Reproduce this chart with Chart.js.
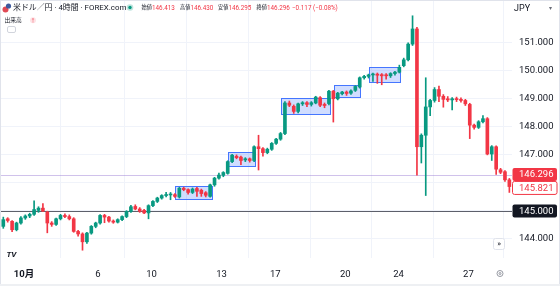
<!DOCTYPE html>
<html>
<head>
<meta charset="utf-8">
<script src="https://cdn.jsdelivr.net/npm/chart.js@4.4.0/dist/chart.umd.min.js"></script>
<style>
  html, body { margin: 0; padding: 0; background: #ffffff; }
  #wrap { position: relative; width: 560px; height: 286px; }
</style>
</head>
<body>
<div id="wrap"><canvas id="fxChart" width="560" height="286"></canvas></div>
<script>
// USD/JPY 4h candles (bar index 0..115)
const opens  = [144.45,144.72,144.63,144.33,144.57,144.75,144.82,144.88,145.02,145.10,
                144.96,144.57,144.52,144.72,144.84,144.80,144.72,144.27,144.18,143.90,
                144.21,144.45,144.57,144.84,144.78,144.64,144.60,144.69,144.80,144.98,
                145.16,145.07,145.02,144.93,145.19,145.34,145.46,145.55,145.57,145.58,
                145.50,145.81,145.76,145.66,145.80,145.74,145.65,145.52,145.93,146.17,
                146.27,146.34,146.76,146.95,146.92,146.82,146.86,146.80,147.29,147.22,
                147.08,147.20,147.41,147.56,147.76,148.85,148.73,148.55,148.82,148.86,
                148.80,148.85,149.04,148.80,148.83,149.27,149.00,149.18,149.24,149.20,
                149.30,149.42,149.75,149.80,149.85,149.88,149.86,149.85,149.82,149.90,
                149.95,150.18,150.39,150.95,151.49,147.29,147.70,148.71,148.94,149.33,
                149.09,149.00,148.96,149.00,148.98,148.94,148.80,148.06,147.98,148.18,
                148.29,147.03,147.29,146.47,146.40,146.11];
const highs  = [144.78,144.76,144.66,144.60,144.80,144.86,144.92,145.36,145.15,145.26,
                144.99,144.62,144.75,144.88,144.90,144.86,144.76,144.31,144.22,144.24,
                144.48,144.60,144.87,144.88,144.81,144.68,144.72,144.83,145.01,145.20,
                145.22,145.12,145.06,145.22,145.37,145.49,145.58,145.66,145.66,145.62,
                145.84,145.85,145.79,145.82,145.84,145.78,145.69,145.96,146.20,146.35,
                146.40,146.79,147.02,147.00,146.96,146.90,146.89,147.32,147.70,147.26,
                147.24,147.44,147.59,147.80,148.90,148.92,148.78,148.85,148.90,148.90,
                148.90,149.09,149.08,148.85,149.30,149.30,149.23,149.27,149.28,149.32,
                149.47,149.78,149.84,149.88,149.92,149.92,149.90,149.90,149.93,149.98,
                150.20,150.45,151.00,151.96,151.55,147.75,149.75,148.98,149.40,149.45,
                149.15,149.08,149.04,149.06,149.03,148.98,148.84,148.10,148.22,148.40,
                148.33,147.33,147.32,146.52,146.44,146.16];
const lows   = [144.38,144.60,144.26,144.29,144.53,144.70,144.76,144.84,144.95,144.97,
                144.22,144.45,144.48,144.68,144.76,144.68,144.24,144.10,143.60,143.84,
                144.17,144.40,144.53,144.58,144.60,144.56,144.57,144.65,144.76,144.95,
                145.04,144.95,144.90,144.72,145.15,145.30,145.42,145.50,145.40,145.48,
                145.46,145.72,145.60,145.62,145.52,145.52,145.50,145.49,145.88,146.13,
                146.22,146.31,146.72,146.86,146.65,146.76,146.74,146.76,146.46,146.95,
                147.04,147.16,147.37,147.52,147.72,148.72,148.48,148.50,148.76,148.72,
                148.74,148.82,148.72,148.68,148.78,148.17,148.96,149.14,149.12,149.16,
                149.26,149.38,149.70,149.74,149.62,149.55,149.50,149.70,149.76,149.84,
                149.92,150.14,150.35,150.90,146.28,146.71,145.55,148.40,148.88,148.90,
                148.70,148.90,148.60,148.90,148.88,148.76,147.58,147.92,147.94,148.14,
                147.00,146.80,146.30,146.33,146.05,145.66];
const closes = [144.69,144.66,144.33,144.57,144.75,144.82,144.88,145.05,145.10,145.00,
                144.57,144.52,144.72,144.84,144.80,144.72,144.27,144.18,143.90,144.21,
                144.45,144.57,144.84,144.78,144.64,144.60,144.69,144.80,144.98,145.15,
                145.07,144.99,144.93,145.19,145.34,145.46,145.55,145.58,145.60,145.52,
                145.81,145.76,145.66,145.78,145.70,145.62,145.56,145.93,146.17,146.28,
                146.37,146.76,146.99,146.90,146.80,146.86,146.80,147.29,147.22,147.08,
                147.20,147.41,147.56,147.76,148.85,148.77,148.55,148.82,148.86,148.80,
                148.86,149.06,148.77,148.76,149.27,149.00,149.20,149.24,149.19,149.28,
                149.44,149.75,149.80,149.85,149.88,149.84,149.82,149.82,149.90,149.95,
                150.12,150.39,150.95,151.49,147.29,147.70,148.71,148.94,149.33,149.09,
                148.98,148.96,149.00,148.97,148.94,148.82,148.06,147.98,148.18,148.29,
                147.03,147.29,146.49,146.38,146.11,145.87];

// time axis: bar position of each day label
const dayTicks  = [4.7, 21.5, 33.7, 49.6, 61.8, 77.7, 89.8, 105.7];
const dayLabels = ['10月', '6', '10', '13', '17', '20', '24', '27'];

// price axis
const priceTicks = [144, 145, 146, 147, 148, 149, 150, 151];

// highlighted ranges (bar from / to, price low / high)
const boxFrom = [39.0, 51.0, 63.05, 75.2, 83.1];
const boxTo   = [47.4, 57.2, 74.25, 81.1, 90.2];
const boxLow  = [145.43, 146.61, 148.46, 149.05, 149.59];
const boxHigh = [145.90, 147.11, 149.02, 149.49, 150.14];

// price marks on the right axis
const lastPrice = 146.296;
const bidPrice = 145.821;
const levelPrice = 145.000;

// header values
const hdrOpen = '146.413', hdrHigh = '146.430', hdrLow = '146.295', hdrClose = '146.296';
const hdrChange = '−0.117 (−0.08%)';

const UP = '#089981';
const DOWN = '#f23645';
const TEXT = '#131722';
const FONT = 'Roboto, "Noto Sans CJK JP", sans-serif';

const candleColors = closes.map((c, i) => c >= opens[i] ? UP : DOWN);
const bodyData = closes.map((c, i) => ({ x: i, y: [opens[i], c] }));
const wickData = closes.map((c, i) => ({ x: i, y: [lows[i], highs[i]] }));

// drop the label padding chart.js reserves so the plot fills the canvas
function noPadding(s) {
    s.paddingTop = 0;
    s.paddingBottom = 0;
    s.paddingLeft = 0;
    s.paddingRight = 0;
}

const overlay = {
    id: 'overlay',
    beforeDatasetsDraw(chart) {
        const { ctx, chartArea: a, scales: { x, y } } = chart;
        ctx.save();
        // highlight boxes
        boxFrom.forEach((b, k) => {
            const x0 = Math.round(x.getPixelForValue(b)) + 0.5;
            const x1 = Math.round(x.getPixelForValue(boxTo[k])) + 0.5;
            const y0 = Math.round(y.getPixelForValue(boxHigh[k])) + 0.5;
            const y1 = Math.round(y.getPixelForValue(boxLow[k])) + 0.5;
            ctx.fillStyle = 'rgba(41, 98, 255, 0.22)';
            ctx.fillRect(x0, y0, x1 - x0, y1 - y0);
            ctx.strokeStyle = 'rgba(41, 98, 255, 0.85)';
            ctx.lineWidth = 1;
            ctx.strokeRect(x0, y0, x1 - x0, y1 - y0);
        });
        // horizontal price lines
        let py = Math.round(y.getPixelForValue(levelPrice)) + 0.5;
        ctx.strokeStyle = '#5d606b';
        ctx.beginPath(); ctx.moveTo(a.left, py); ctx.lineTo(a.right, py); ctx.stroke();
        py = Math.round(y.getPixelForValue(lastPrice)) + 0.5;
        ctx.strokeStyle = 'rgba(150, 120, 210, 0.45)';
        ctx.beginPath(); ctx.moveTo(a.left, py); ctx.lineTo(a.right, py); ctx.stroke();
        ctx.restore();
    },
    afterDraw(chart) {
        const { ctx, chartArea: a, scales: { y } } = chart;
        ctx.save();
        ctx.textBaseline = 'middle';

        // price tags
        const tag = (v, fill, stroke, color) => {
            const cy = y.getPixelForValue(v);
            ctx.fillStyle = fill;
            ctx.beginPath();
            ctx.roundRect(a.right + 0.5, cy - 6.5, 44.5, 13, 2);
            ctx.fill();
            if (stroke) { ctx.strokeStyle = stroke; ctx.lineWidth = 1; ctx.stroke(); }
            ctx.fillStyle = color;
            ctx.font = '9.5px ' + FONT;
            ctx.fillText(v.toFixed(3), a.right + 7, cy + 0.5);
        };
        tag(lastPrice, DOWN, null, '#ffffff');
        tag(bidPrice, '#ffffff', DOWN, DOWN);
        tag(levelPrice, TEXT, null, '#ffffff');

        // header: symbol
        ctx.fillStyle = '#e04a55';
        ctx.beginPath(); ctx.arc(5.5, 9.5, 3, 0, Math.PI * 2); ctx.fill();
        ctx.fillStyle = '#3d5a9e';
        ctx.beginPath(); ctx.arc(8.5, 6, 2.6, 0, Math.PI * 2); ctx.fill();
        ctx.fillStyle = TEXT;
        ctx.font = '7.9px ' + FONT;
        ctx.fillText('米ドル／円 · 4時間 · FOREX.com', 13, 8.5);

        // market status dot
        ctx.fillStyle = 'rgba(8, 153, 129, 0.25)';
        ctx.beginPath(); ctx.arc(130, 7.5, 3.3, 0, Math.PI * 2); ctx.fill();
        ctx.fillStyle = UP;
        ctx.beginPath(); ctx.arc(130, 7.5, 1.7, 0, Math.PI * 2); ctx.fill();

        // OHLC legend
        const ohlc = [['始値', hdrOpen, 141.5], ['高値', hdrHigh, 180], ['安値', hdrLow, 218], ['終値', hdrClose, 256.5]];
        ohlc.forEach(([lab, val, px]) => {
            ctx.fillStyle = TEXT;
            ctx.font = '5.2px ' + FONT;
            ctx.fillText(lab, px, 8);
            ctx.fillStyle = DOWN;
            ctx.font = '6.3px ' + FONT;
            ctx.fillText(val, px + 10.5, 8);
        });
        ctx.fillText(hdrChange, 292, 8);

        // volume row
        ctx.fillStyle = TEXT;
        ctx.font = '5.8px ' + FONT;
        ctx.fillText('出来高', 4.5, 20.5);
        ctx.fillStyle = '#fde3e6';
        ctx.beginPath(); ctx.arc(33, 20.3, 3, 0, Math.PI * 2); ctx.fill();
        ctx.fillStyle = DOWN;
        ctx.font = '5px ' + FONT;
        ctx.textAlign = 'center';
        ctx.fillText('↑', 33, 20.5);
        ctx.textAlign = 'left';
        ctx.strokeStyle = '#d1d4dc';
        ctx.beginPath(); ctx.roundRect(7.5, 26.5, 8, 6, 1.5); ctx.stroke();

        // currency selector
        ctx.fillStyle = '#ffffff';
        ctx.fillRect(a.right + 1, 1, 47, 15);
        ctx.fillStyle = TEXT;
        ctx.font = '9px ' + FONT;
        ctx.fillText('JPY', 514, 8.5);
        ctx.font = '6px ' + FONT;
        ctx.fillStyle = '#6a6d78';
        ctx.fillText('▾', 549, 8.5);

        // scroll button
        ctx.fillStyle = '#ffffff';
        ctx.strokeStyle = '#e0e3eb';
        ctx.beginPath(); ctx.roundRect(493.5, 238.5, 11, 11, 2); ctx.fill(); ctx.stroke();
        ctx.fillStyle = TEXT;
        ctx.font = '8px ' + FONT;
        ctx.textAlign = 'center';
        ctx.fillText('»', 499, 243.5);

        // settings icon
        ctx.strokeStyle = '#9598a1';
        ctx.beginPath(); ctx.arc(500, 273.5, 3, 0, Math.PI * 2); ctx.stroke();
        ctx.beginPath(); ctx.arc(500, 273.5, 1, 0, Math.PI * 2); ctx.stroke();

        // logo
        ctx.textAlign = 'left';
        ctx.fillStyle = TEXT;
        ctx.font = 'bold italic 8px ' + FONT;
        ctx.fillText('TV', 6.5, 254.5);

        // frame
        ctx.strokeStyle = '#e0e3eb';
        ctx.strokeRect(0.5, 0.5, 559, 285);
        ctx.fillStyle = '#eef0f3';
        ctx.fillRect(0, 284, 560, 2);
        ctx.restore();
    }
};

const ctx = document.getElementById('fxChart').getContext('2d');
new Chart(ctx, {
    type: 'bar',
    data: {
        datasets: [
            {
                label: 'body',
                data: bodyData,
                backgroundColor: candleColors,
                borderWidth: 0,
                barThickness: 3,
                minBarLength: 1,
                grouped: false
            },
            {
                label: 'wick',
                data: wickData,
                backgroundColor: candleColors,
                borderWidth: 0,
                barThickness: 1,
                grouped: false
            }
        ]
    },
    options: {
        responsive: false,
        animation: false,
        devicePixelRatio: 1,
        layout: { padding: 0 },
        plugins: { legend: { display: false }, tooltip: { enabled: false } },
        scales: {
            x: {
                type: 'linear',
                min: -0.75,
                max: 115.6,
                offset: false,
                border: { display: false },
                grid: { color: '#f0f3fa', drawTicks: false },
                afterBuildTicks: s => { s.ticks = dayTicks.map(v => ({ value: v })); },
                afterFit: s => { s.height = 28; noPadding(s); },
                ticks: {
                    autoSkip: false,
                    maxRotation: 0,
                    padding: 11,
                    color: TEXT,
                    font: c => ({ family: FONT, size: 9.5, weight: c.index === 0 ? 'bold' : 'normal' }),
                    callback: (v, i) => dayLabels[i]
                }
            },
            y: {
                position: 'right',
                min: 143.322,
                max: 152.523,
                border: { display: false },
                grid: { color: '#f0f3fa', drawTicks: false },
                afterBuildTicks: s => { s.ticks = priceTicks.map(v => ({ value: v })); },
                afterFit: s => { s.width = 48; noPadding(s); },
                ticks: {
                    padding: 7,
                    color: TEXT,
                    font: { family: FONT, size: 9.5 },
                    callback: v => v.toFixed(3)
                }
            }
        }
    },
    plugins: [overlay]
});
</script>
</body>
</html>
